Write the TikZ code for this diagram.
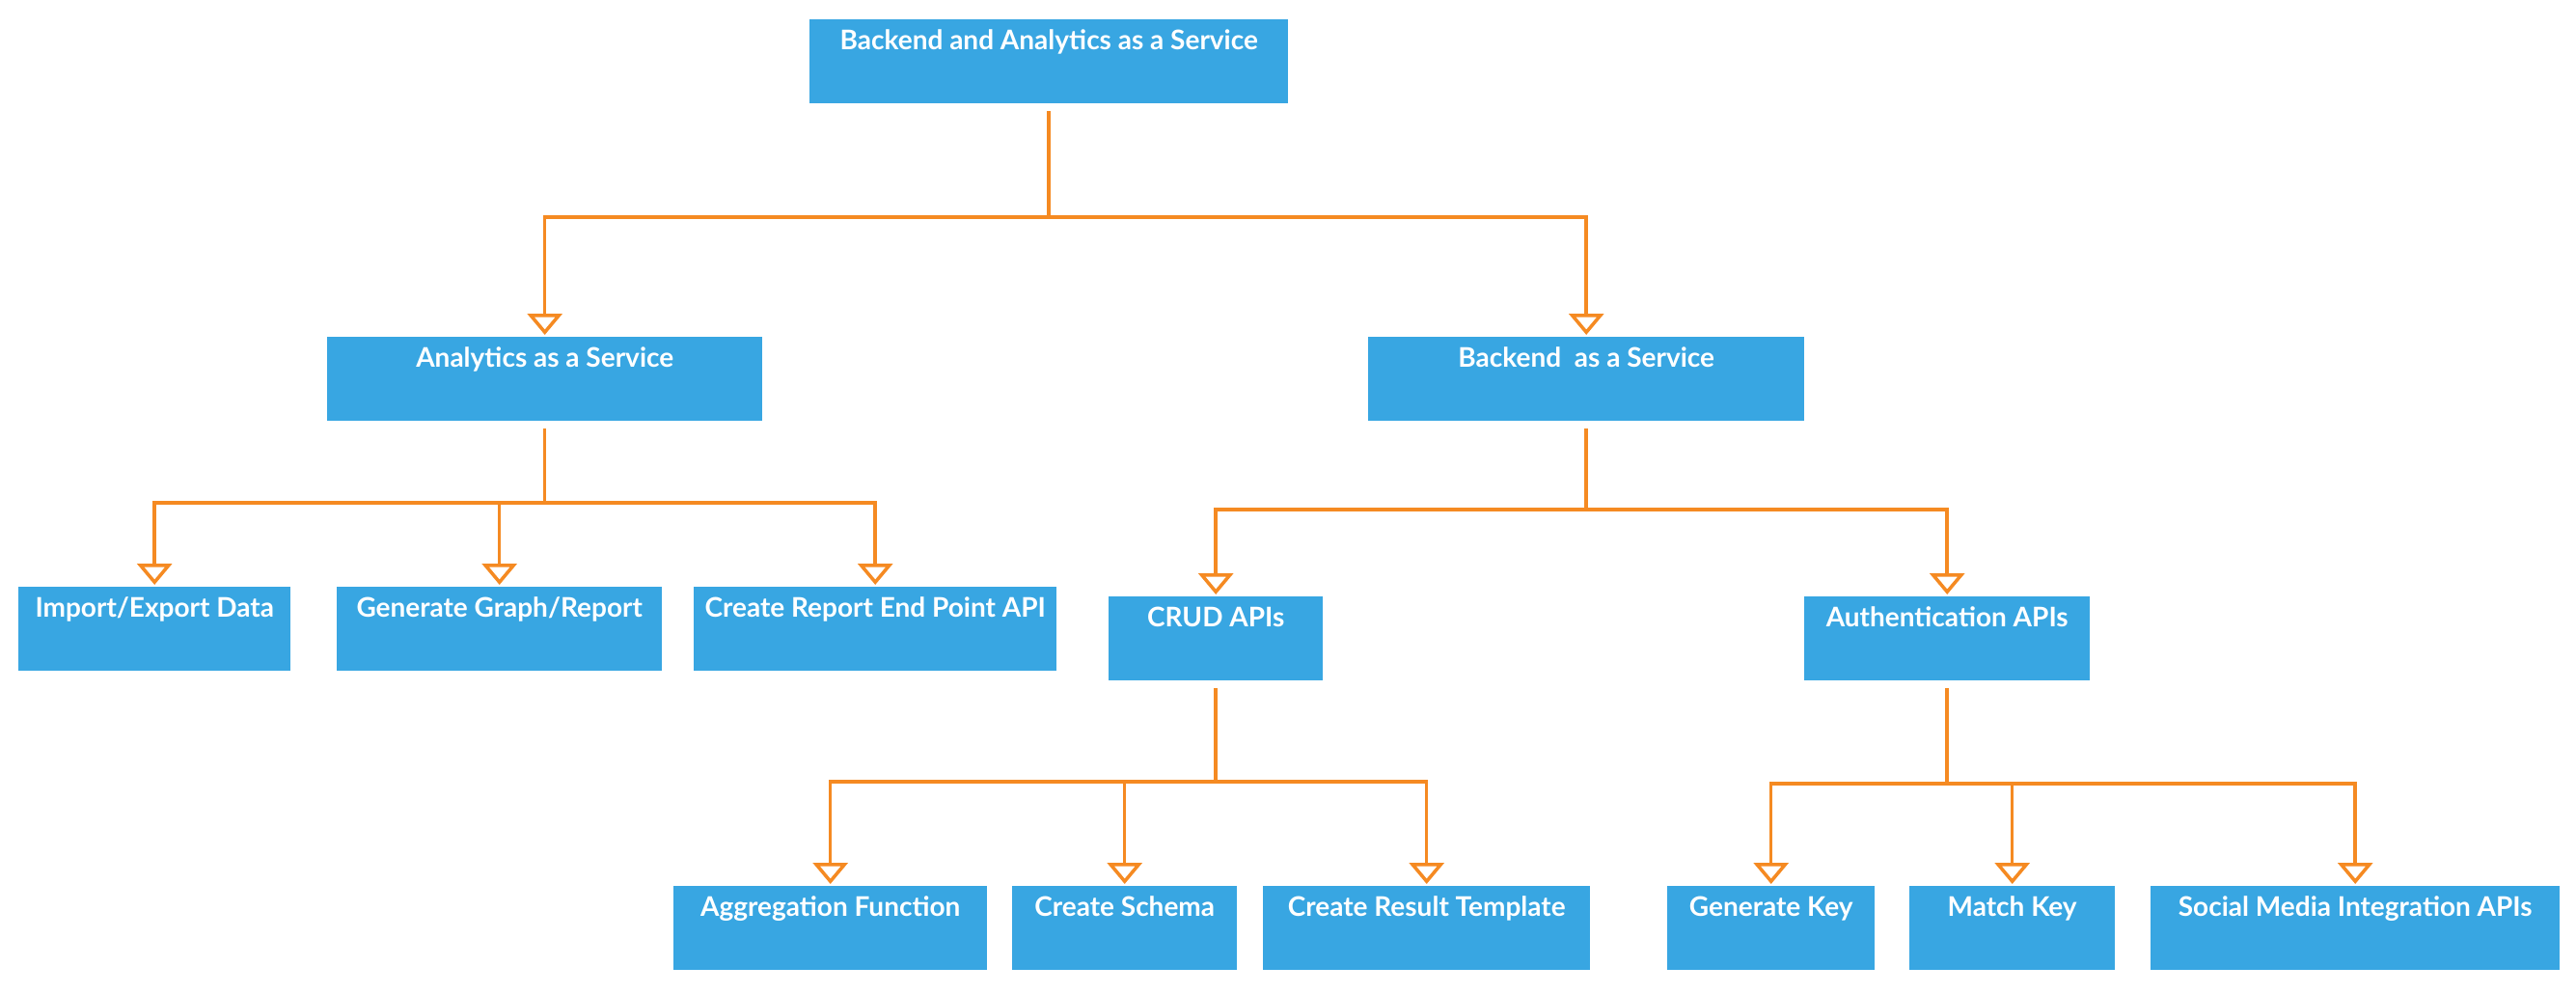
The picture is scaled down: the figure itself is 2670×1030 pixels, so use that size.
\documentclass[tikz,border=0pt]{standalone}
\usepackage{fontspec}
\setmainfont{Lato}
\usetikzlibrary{arrows.meta}
\definecolor{boxblue}{HTML}{38A6E2}
\definecolor{connorange}{HTML}{F58A22}
\begin{document}
\begin{tikzpicture}[x=1pt,y=1pt,
  box/.style={fill=boxblue, text=white, font=\fontsize{28}{32}\selectfont\bfseries,
    anchor=north west, inner xsep=0pt, inner ysep=0pt,
    text height=31pt, text depth=56pt, minimum height=87pt},
  conn/.style={draw=connorange, line width=3.5pt,
    -{Triangle[open, fill=white, width=36pt, length=22pt]},
    shorten >=2pt, shorten <=8pt}
]
\useasboundingbox (0,0) rectangle (2670,-1030);

% boxes
\node[box, minimum width=496pt] (top)  at (839,-20)  {Backend and Analytics as a Service};
\node[box, minimum width=451pt] (ana)  at (339,-349) {Analytics as a Service};
\node[box, minimum width=452pt] (back) at (1418,-349) {Backend\ \ as a Service};
\node[box, minimum width=282pt] (imp)  at (19,-608)  {Import/Export Data};
\node[box, minimum width=337pt] (gen)  at (349,-608) {Generate Graph/Report};
\node[box, minimum width=376pt] (rep)  at (719,-608) {Create Report End Point API};
\node[box, minimum width=222pt] (crud) at (1149,-618) {CRUD APIs};
\node[box, minimum width=296pt] (auth) at (1870,-618) {Authentication APIs};
\node[box, minimum width=325pt] (agg)  at (698,-918) {Aggregation Function};
\node[box, minimum width=233pt] (sch)  at (1049,-918) {Create Schema};
\node[box, minimum width=339pt] (res)  at (1309,-918) {Create Result Template};
\node[box, minimum width=215pt] (gk)   at (1728,-918) {Generate Key};
\node[box, minimum width=213pt] (mk)   at (1979,-918) {Match Key};
\node[box, minimum width=424pt] (soc)  at (2229,-918) {Social Media Integration APIs};

% bus levels
\coordinate (b1) at (0,-225);
\coordinate (b2) at (0,-521);
\coordinate (b3) at (0,-528);
\coordinate (b4) at (0,-810);
\coordinate (b5) at (0,-812);

% connectors
\foreach \c in {ana,back}
  \draw[conn] (top.south) -- (top.south |- b1) -| (\c.north);
\foreach \c in {imp,gen,rep}
  \draw[conn] (ana.south) -- (ana.south |- b2) -| (\c.north);
\foreach \c in {crud,auth}
  \draw[conn] (back.south) -- (back.south |- b3) -| (\c.north);
\foreach \c in {agg,sch,res}
  \draw[conn] (crud.south) -- (crud.south |- b4) -| (\c.north);
\foreach \c in {gk,mk,soc}
  \draw[conn] (auth.south) -- (auth.south |- b5) -| (\c.north);
\end{tikzpicture}
\end{document}
